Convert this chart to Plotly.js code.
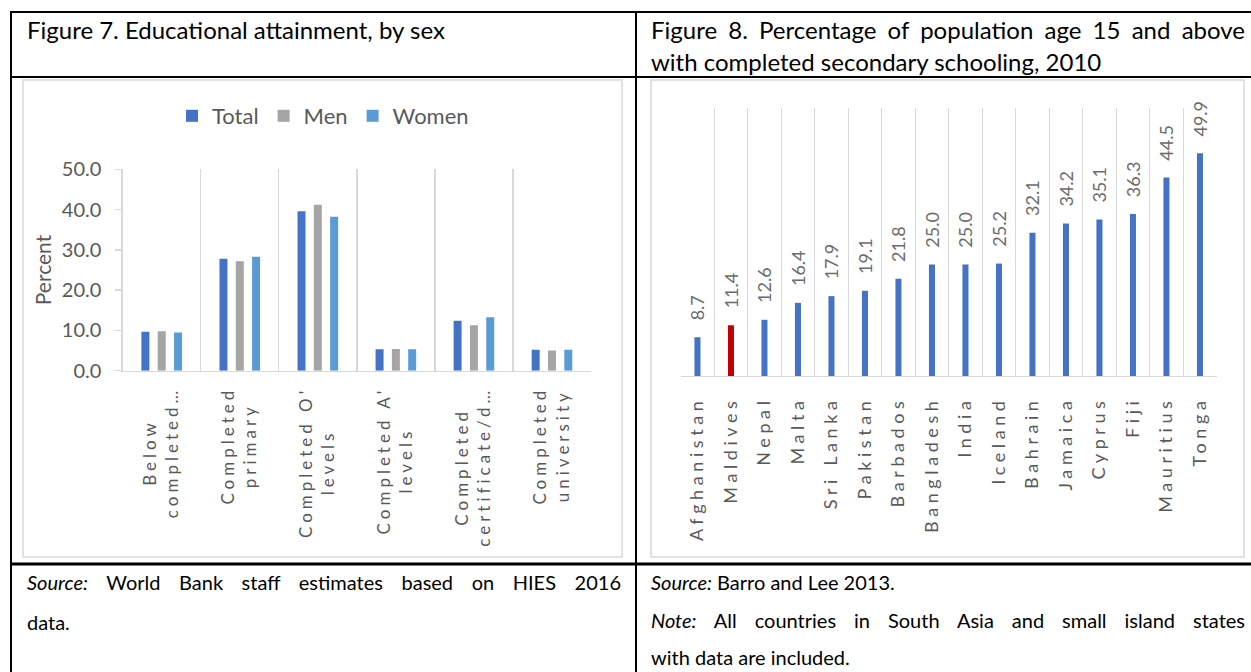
<!DOCTYPE html>
<html>
<head>
<meta charset="utf-8">
<script src="https://cdn.plot.ly/plotly-3.0.1.min.js"></script>
<style>
  body { margin: 0; background: #fff; }
  #wrap { position: relative; width: 1251px; height: 672px; overflow: hidden; font-family: Lato, "Open Sans", sans-serif; }
  #plot { position: absolute; left: 0; top: 0; width: 1251px; height: 672px; }
  .t { position: absolute; color: #000; white-space: nowrap; z-index: 5; }
  .ttl { font-size: 24px; line-height: 32px; height: 32px; }
  .fn { font-size: 20px; line-height: 32px; height: 32px; }
  .j { text-align: justify; text-align-last: justify; white-space: normal; }
  #plot .xtick text { letter-spacing: 4px; }
  #plot .x2tick text { letter-spacing: 4.6px; }
</style>
</head>
<body>
<div id="wrap">
  <div id="plot"></div>
  <div class="t ttl" style="left:27px; top:14px;">Figure 7. Educational attainment, by sex</div>
  <div class="t ttl j" style="left:651px; width:594px; top:14px;">Figure 8. Percentage of population age 15 and above</div>
  <div class="t ttl" style="left:651px; top:46px;">with completed secondary schooling, 2010</div>
  <div class="t fn j" style="left:27px; width:594px; top:566px;"><i>Source:</i> World Bank staff estimates based on HIES 2016</div>
  <div class="t fn" style="left:27px; top:606px;">data.</div>
  <div class="t fn" style="left:651px; top:566px;"><i>Source:</i> Barro and Lee 2013.</div>
  <div class="t fn j" style="left:651px; width:594px; top:604px;"><i>Note:</i> All countries in South Asia and small island states</div>
  <div class="t fn" style="left:651px; top:641px;">with data are included.</div>
</div>
<script>
// ---- Figure 7 data ----
const eduCategories = ['Below<br>completed…', 'Completed<br>primary', "Completed O'<br>levels", "Completed A'<br>levels", 'Completed<br>certificate/d…', 'Completed<br>university'];
const totalPct = [9.7, 27.8, 39.6, 5.3, 12.4, 5.2];
const menPct   = [9.8, 27.2, 41.2, 5.4, 11.3, 5.0];
const womenPct = [9.5, 28.3, 38.2, 5.3, 13.3, 5.2];

// ---- Figure 8 data ----
const countries = ['Afghanistan', 'Maldives', 'Nepal', 'Malta', 'Sri Lanka', 'Pakistan', 'Barbados', 'Bangladesh', 'India', 'Iceland', 'Bahrain', 'Jamaica', 'Cyprus', 'Fiji', 'Mauritius', 'Tonga'];
const secondaryPct = [8.7, 11.4, 12.6, 16.4, 17.9, 19.1, 21.8, 25.0, 25.0, 25.2, 32.1, 34.2, 35.1, 36.3, 44.5, 49.9];
const highlightCountry = 'Maldives';

const W = 1251, H = 672;
const px = x => x / W;
const py = y => 1 - y / H;

const gray = '#595959';
const FONT = 'Lato, "Open Sans", sans-serif';

const traces = [
  { type: 'bar', name: 'Total', x: eduCategories, y: totalPct, marker: { color: '#4472C4' }, xaxis: 'x', yaxis: 'y' },
  { type: 'bar', name: 'Men', x: eduCategories, y: menPct, marker: { color: '#A5A5A5' }, xaxis: 'x', yaxis: 'y' },
  { type: 'bar', name: 'Women', x: eduCategories, y: womenPct, marker: { color: '#5B9BD5' }, xaxis: 'x', yaxis: 'y' },
  {
    type: 'bar', name: 'Secondary', x: countries, y: secondaryPct,
    marker: { color: countries.map(c => c === highlightCountry ? '#C00000' : '#4472C4') },
    width: 0.18, xaxis: 'x2', yaxis: 'y2', showlegend: false,
    texttemplate: '\u00a0\u00a0\u00a0%{y:.1f}', textposition: 'outside', textangle: -90,
    constraintext: 'none', cliponaxis: false,
    textfont: { family: FONT, size: 18, color: '#6b6b6b' }
  }
];

const lineBlack = (x0, y0, x1, y1, w) => ({ type: 'line', xref: 'paper', yref: 'paper', x0: px(x0), y0: py(y0), x1: px(x1), y1: py(y1), line: { color: '#000', width: w }, layer: 'above' });
const boxGray = (x0, y0, x1, y1) => ({ type: 'rect', xref: 'paper', yref: 'paper', x0: px(x0), y0: py(y0), x1: px(x1), y1: py(y1), line: { color: '#d9d9d9', width: 1.5 }, fillcolor: 'rgba(0,0,0,0)', layer: 'below' });

const layout = {
  width: W, height: H, autosize: false,
  margin: { l: 0, r: 0, t: 0, b: 0 },
  paper_bgcolor: '#fff', plot_bgcolor: 'rgba(0,0,0,0)',
  font: { family: FONT, color: gray },
  barmode: 'group', bargap: 0.373, bargroupgap: 0.51,
  showlegend: true,
  legend: {
    orientation: 'h', x: px(323), xanchor: 'center', y: py(116), yanchor: 'middle',
    font: { family: FONT, size: 22, color: gray }, bgcolor: 'rgba(0,0,0,0)', traceorder: 'normal'
  },
  xaxis: {
    domain: [px(122.7), px(591)], anchor: 'y', type: 'category',
    tickson: 'boundaries', showgrid: true, gridcolor: '#d9d9d9', gridwidth: 1.3,
    showline: true, linecolor: '#d9d9d9', linewidth: 1.3, ticks: '',
    tickangle: -90, ticklabelstandoff: 8,
    tickfont: { family: FONT, size: 17, color: gray }, fixedrange: true
  },
  yaxis: {
    domain: [py(370.7), py(169.3)], anchor: 'x', range: [0, 50], dtick: 10, tickformat: '.1f',
    showgrid: false, zeroline: false, showline: true, linecolor: '#d9d9d9', linewidth: 1.3,
    ticks: 'outside', ticklen: 6, tickcolor: '#d9d9d9', tickwidth: 1.3, ticklabelstandoff: 10,
    tickfont: { family: FONT, size: 20, color: gray },
    title: { text: 'Percent', font: { family: FONT, size: 21, color: gray }, standoff: 4 },
    fixedrange: true
  },
  xaxis2: {
    domain: [px(680.7), px(1216.7)], anchor: 'y2', type: 'category',
    tickson: 'boundaries', showgrid: true, gridcolor: '#d9d9d9', gridwidth: 1.3,
    showline: true, linecolor: '#d9d9d9', linewidth: 1.3, ticks: '',
    tickangle: -90, ticklabelstandoff: 12,
    tickfont: { family: FONT, size: 18, color: gray }, fixedrange: true
  },
  yaxis2: {
    domain: [py(376), py(108.3)], anchor: 'x2', range: [0, 60],
    showgrid: false, zeroline: false, showline: false, showticklabels: false, ticks: '', fixedrange: true
  },
  shapes: [
    boxGray(23, 80, 622, 557),
    boxGray(651, 80, 1244, 557),
    lineBlack(10, 12, 1251, 12, 2),
    lineBlack(11, 12, 11, 672, 2),
    lineBlack(636, 12, 636, 672, 2),
    lineBlack(10, 77, 1251, 77, 2),
    lineBlack(10, 564, 1251, 564, 3)
  ]
};

// Centre the lines of the two-line category labels on each other, as in the original.
function centreMultiLineLabels() {
  document.querySelectorAll('#plot .xtick text').forEach(t => {
    const spans = Array.from(t.querySelectorAll('tspan.line'));
    if (spans.length < 2) return;
    const lens = spans.map(s => s.getComputedTextLength());
    const maxL = Math.max(...lens);
    const x0 = parseFloat(spans[0].getAttribute('x') || t.getAttribute('x') || '0');
    t.setAttribute('text-anchor', 'middle');
    spans.forEach(s => s.setAttribute('x', x0 - maxL / 2));
  });
}

Plotly.newPlot('plot', traces, layout, { staticPlot: true, displayModeBar: false }).then(centreMultiLineLabels);
</script>
</body>
</html>
